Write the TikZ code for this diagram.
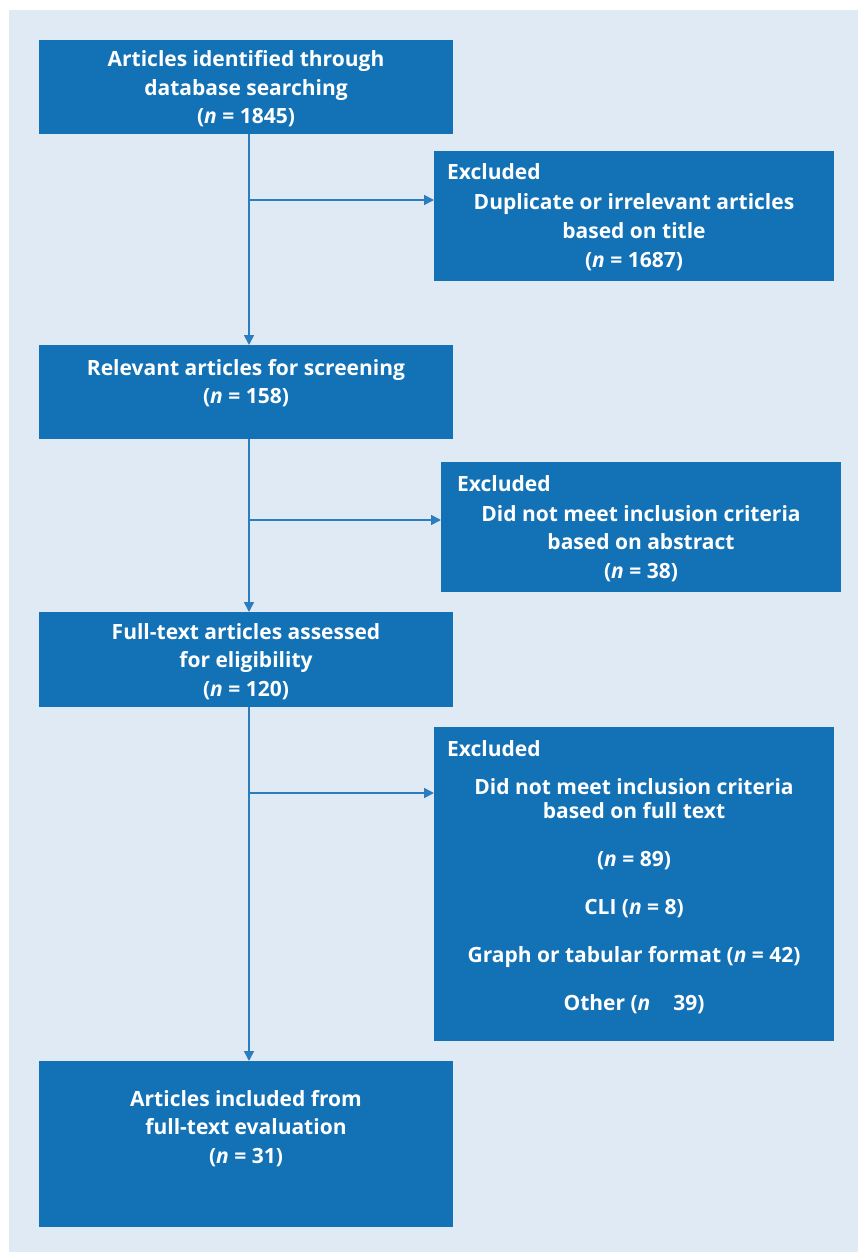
\documentclass[tikz,border=0pt]{standalone}
\usepackage{fontspec}
\setmainfont{Open Sans}
\usetikzlibrary{arrows.meta}
\definecolor{panelbg}{HTML}{E0EAF4}
\definecolor{boxblue}{HTML}{1372B6}
\definecolor{linkblue}{HTML}{2A7DBE}
\begin{document}
\begin{tikzpicture}[x=1pt,y=-1pt,
  boxnode/.style={draw=none,fill=boxblue,inner sep=0pt,outer sep=0pt,anchor=north west},
  txt/.style={text=white,inner sep=0pt,font=\fontsize{21}{28.5}\selectfont\bfseries},
  txttight/.style={text=white,inner sep=0pt,font=\fontsize{21}{24}\selectfont\bfseries},
  link/.style={draw=linkblue,line width=1.6pt,-{Triangle[length=10pt,width=10pt]}}
]
\useasboundingbox (0,0) rectangle (858,1252);
\fill[panelbg] (9,10) rectangle (858,1252);
\setlength{\tabcolsep}{0pt}

% boxes
\node[boxnode,minimum width=414pt,minimum height=94pt] (b1) at (39,40) {};
\node[boxnode,minimum width=400pt,minimum height=130pt] (e1) at (434,151) {};
\node[boxnode,minimum width=414pt,minimum height=94pt] (b2) at (39,345) {};
\node[boxnode,minimum width=400pt,minimum height=130pt] (e2) at (441,462) {};
\node[boxnode,minimum width=414pt,minimum height=95pt] (b3) at (39,612) {};
\node[boxnode,minimum width=400pt,minimum height=314pt] (e3) at (434,727) {};
\node[boxnode,minimum width=414pt,minimum height=166pt] (b4) at (39,1061) {};

% texts
\node[txt,anchor=base] (t1) at (246,67) {\begin{tabular}[t]{c}Articles identified through\\database searching\\(\textit{n} = 1845)\end{tabular}};
\node[txt,anchor=base west] (x1h) at (447,179) {Excluded};
\node[txt,anchor=base] (x1) at (634,210) {\begin{tabular}[t]{c}Duplicate or irrelevant articles\\based on title\\(\textit{n} = 1687)\end{tabular}};
\node[txt,anchor=base] (t2) at (246,375) {\begin{tabular}[t]{c}Relevant articles for screening\\(\textit{n} = 158)\end{tabular}};
\node[txt,anchor=base west] (x2h) at (457,491) {Excluded};
\node[txt,anchor=base] (x2) at (641,521) {\begin{tabular}[t]{c}Did not meet inclusion criteria\\based on abstract\\(\textit{n} = 38)\end{tabular}};
\node[txt,anchor=base] (t3) at (246,639) {\begin{tabular}[t]{c}Full-text articles assessed\\for eligibility\\(\textit{n} = 120)\end{tabular}};
\node[txt,anchor=base west] (x3h) at (447,756) {Excluded};
\node[txttight,anchor=base] (x3) at (634,794) {\begin{tabular}[t]{c}Did not meet inclusion criteria\\based on full text\\[24pt](\textit{n} = 89)\\[24pt]CLI (\textit{n} = 8)\\[24pt]Graph or tabular format (\textit{n} = 42)\\[24pt]Other (\textit{n} \phantom{=} 39)\end{tabular}};
\node[txt,anchor=base] (t4) at (246,1106) {\begin{tabular}[t]{c}Articles included from\\full-text evaluation\\(\textit{n} = 31)\end{tabular}};

% connectors
\coordinate (spine) at (249,0);
\coordinate (j1) at (249,200);
\coordinate (j2) at (249,520);
\coordinate (j3) at (249,793);
\draw[link] (b1.south -| spine) -- (b2.north -| spine);
\draw[link] (b2.south -| spine) -- (b3.north -| spine);
\draw[link] (b3.south -| spine) -- (b4.north -| spine);
\draw[link] (j1) -- (j1 -| e1.west);
\draw[link] (j2) -- (j2 -| e2.west);
\draw[link] (j3) -- (j3 -| e3.west);
\end{tikzpicture}
\end{document}
